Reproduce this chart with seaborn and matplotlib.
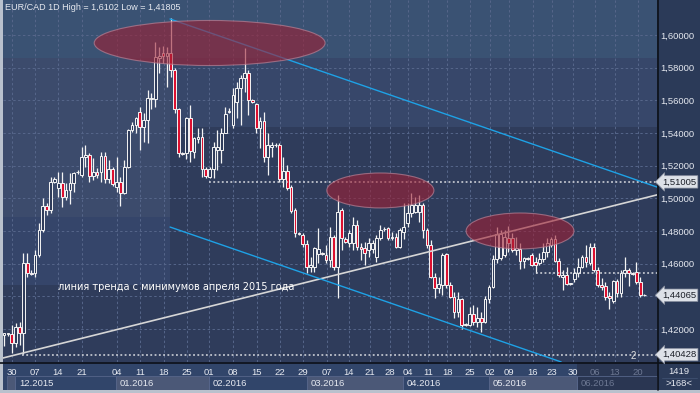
import matplotlib
matplotlib.use("Agg")
import matplotlib.pyplot as plt
import matplotlib.transforms as mtransforms
from matplotlib.patches import Ellipse, Rectangle
from matplotlib.lines import Line2D
import numpy as np
import seaborn as sns

# --- daily EUR/CAD candles (incl. short Sunday bars) ---
opens = [
    1.4163, 1.4169, 1.4169, 1.4116, 1.4210, 1.4173, 1.4606, 1.4545, 1.4540, 1.4653,
    1.4806, 1.4953, 1.4928, 1.5102, 1.5061, 1.5092, 1.5006, 1.5051, 1.5092, 1.5159,
    1.5141, 1.5251, 1.5263, 1.5137, 1.5163, 1.5163, 1.5259, 1.5116, 1.5177, 1.5071,
    1.5098, 1.5034, 1.5194, 1.5418, 1.5449, 1.5530, 1.5434, 1.5479, 1.5606, 1.5606,
    1.5861, 1.5892, 1.5871, 1.5888, 1.5786, 1.5545, 1.5275, 1.5275, 1.5490, 1.5285,
    1.5361, 1.5377, 1.5177, 1.5132, 1.5177, 1.5296, 1.5296, 1.5402, 1.5528, 1.5449,
    1.5592, 1.5673, 1.5735, 1.5769, 1.5602, 1.5575, 1.5428, 1.5473, 1.5255, 1.5316,
    1.5326, 1.5326, 1.5116, 1.5167, 1.5071, 1.4928, 1.4785, 1.4775, 1.4720, 1.4577,
    1.4581, 1.4659, 1.4663, 1.4653, 1.4622, 1.4765, 1.4581, 1.4928, 1.4753, 1.4724,
    1.4724, 1.4836, 1.4704, 1.4694, 1.4683, 1.4687, 1.4638, 1.4759, 1.4810, 1.4816,
    1.4755, 1.4765, 1.4700, 1.4796, 1.4847, 1.4908, 1.4918, 1.4918, 1.4959, 1.4806,
    1.4714, 1.4520, 1.4449, 1.4469, 1.4659, 1.4469, 1.4394, 1.4306, 1.4381, 1.4224,
    1.4224, 1.4291, 1.4244, 1.4265, 1.4244, 1.4381, 1.4459, 1.4626, 1.4632, 1.4653,
    1.4755, 1.4755, 1.4683, 1.4687, 1.4618, 1.4632, 1.4653, 1.4612, 1.4606, 1.4626,
    1.4673, 1.4714, 1.4749, 1.4618, 1.4520, 1.4530, 1.4475, 1.4504, 1.4540, 1.4581,
    1.4638, 1.4602, 1.4700, 1.4561, 1.4469, 1.4463, 1.4402, 1.4373, 1.4496, 1.4422,
    1.4540, 1.4561, 1.4540, 1.4551, 1.4489, 1.4407,
]
highs = [
    1.4177, 1.4177, 1.4224, 1.4234, 1.4244, 1.4663, 1.4663, 1.4561, 1.4683, 1.4847,
    1.5000, 1.4973, 1.5132, 1.5132, 1.5163, 1.5163, 1.5092, 1.5157, 1.5163, 1.5173,
    1.5316, 1.5326, 1.5275, 1.5245, 1.5183, 1.5285, 1.5285, 1.5234, 1.5194, 1.5255,
    1.5132, 1.5234, 1.5422, 1.5469, 1.5500, 1.5561, 1.5520, 1.5663, 1.5643, 1.5959,
    1.5928, 1.5933, 1.5928, 1.6102, 1.5796, 1.5551, 1.5285, 1.5500, 1.5571, 1.5377,
    1.5428, 1.5428, 1.5194, 1.5190, 1.5347, 1.5418, 1.5428, 1.5561, 1.5551, 1.5673,
    1.5714, 1.5755, 1.5918, 1.5786, 1.5610, 1.5582, 1.5500, 1.5530, 1.5398, 1.5347,
    1.5336, 1.5336, 1.5255, 1.5204, 1.5081, 1.4939, 1.4796, 1.4785, 1.4745, 1.4642,
    1.4704, 1.4816, 1.4671, 1.4714, 1.4826, 1.4775, 1.5020, 1.4939, 1.4761, 1.4806,
    1.4888, 1.4867, 1.4724, 1.4734, 1.4755, 1.4745, 1.4775, 1.4836, 1.4822, 1.4826,
    1.4796, 1.4785, 1.4816, 1.4969, 1.4969, 1.5030, 1.5010, 1.5020, 1.4969, 1.4816,
    1.4745, 1.4540, 1.4520, 1.4667, 1.4667, 1.4489, 1.4428, 1.4428, 1.4387, 1.4234,
    1.4336, 1.4346, 1.4336, 1.4306, 1.4402, 1.4469, 1.4653, 1.4826, 1.4806, 1.4806,
    1.4830, 1.4785, 1.4765, 1.4724, 1.4642, 1.4638, 1.4663, 1.4642, 1.4667, 1.4724,
    1.4755, 1.4765, 1.4775, 1.4632, 1.4561, 1.4581, 1.4483, 1.4571, 1.4632, 1.4653,
    1.4714, 1.4724, 1.4728, 1.4581, 1.4510, 1.4489, 1.4428, 1.4500, 1.4504, 1.4561,
    1.4638, 1.4571, 1.4549, 1.4612, 1.4520, 1.4412,
]
lows = [
    1.4095, 1.4157, 1.4055, 1.4091, 1.4102, 1.4046, 1.4520, 1.4530, 1.4520, 1.4642,
    1.4796, 1.4898, 1.4908, 1.5092, 1.5010, 1.4945, 1.4990, 1.4965, 1.5041, 1.5149,
    1.5132, 1.5194, 1.5102, 1.5112, 1.5122, 1.5102, 1.5092, 1.5092, 1.5075, 1.5041,
    1.4953, 1.5026, 1.5183, 1.5408, 1.5398, 1.5296, 1.5347, 1.5336, 1.5545, 1.5561,
    1.5765, 1.5826, 1.5684, 1.5745, 1.5520, 1.5255, 1.5265, 1.5239, 1.5224, 1.5245,
    1.5336, 1.5132, 1.5122, 1.5122, 1.5122, 1.5173, 1.5214, 1.5398, 1.5520, 1.5428,
    1.5490, 1.5449, 1.5653, 1.5510, 1.5582, 1.5398, 1.5306, 1.5224, 1.5143, 1.5255,
    1.5316, 1.5102, 1.5071, 1.5051, 1.4908, 1.4765, 1.4775, 1.4700, 1.4540, 1.4551,
    1.4551, 1.4602, 1.4653, 1.4602, 1.4581, 1.4561, 1.4387, 1.4683, 1.4728, 1.4704,
    1.4683, 1.4683, 1.4622, 1.4591, 1.4642, 1.4663, 1.4612, 1.4745, 1.4802, 1.4745,
    1.4745, 1.4694, 1.4694, 1.4749, 1.4826, 1.4883, 1.4908, 1.4857, 1.4755, 1.4694,
    1.4510, 1.4387, 1.4418, 1.4408, 1.4449, 1.4387, 1.4265, 1.4275, 1.4198, 1.4218,
    1.4218, 1.4224, 1.4214, 1.4183, 1.4234, 1.4357, 1.4449, 1.4602, 1.4622, 1.4642,
    1.4673, 1.4673, 1.4653, 1.4565, 1.4571, 1.4622, 1.4585, 1.4540, 1.4591, 1.4612,
    1.4642, 1.4700, 1.4612, 1.4516, 1.4438, 1.4469, 1.4467, 1.4489, 1.4520, 1.4571,
    1.4581, 1.4591, 1.4551, 1.4459, 1.4438, 1.4377, 1.4320, 1.4361, 1.4394, 1.4398,
    1.4520, 1.4463, 1.4532, 1.4475, 1.4398, 1.4402,
]
closes = [
    1.4173, 1.4171, 1.4112, 1.4210, 1.4173, 1.4606, 1.4540, 1.4536, 1.4653, 1.4806,
    1.4953, 1.4928, 1.5102, 1.5116, 1.5092, 1.5006, 1.5051, 1.5092, 1.5157, 1.5163,
    1.5251, 1.5263, 1.5137, 1.5163, 1.5143, 1.5259, 1.5116, 1.5177, 1.5088, 1.5102,
    1.5034, 1.5194, 1.5418, 1.5449, 1.5490, 1.5434, 1.5479, 1.5612, 1.5614, 1.5867,
    1.5871, 1.5871, 1.5888, 1.5786, 1.5545, 1.5275, 1.5271, 1.5490, 1.5292, 1.5367,
    1.5377, 1.5177, 1.5137, 1.5177, 1.5316, 1.5316, 1.5402, 1.5516, 1.5532, 1.5632,
    1.5673, 1.5735, 1.5769, 1.5602, 1.5590, 1.5428, 1.5473, 1.5255, 1.5326, 1.5326,
    1.5324, 1.5116, 1.5167, 1.5061, 1.4924, 1.4785, 1.4781, 1.4720, 1.4581, 1.4591,
    1.4694, 1.4687, 1.4661, 1.4622, 1.4765, 1.4581, 1.4918, 1.4755, 1.4734, 1.4789,
    1.4836, 1.4700, 1.4687, 1.4663, 1.4724, 1.4728, 1.4759, 1.4806, 1.4812, 1.4759,
    1.4761, 1.4704, 1.4806, 1.4826, 1.4908, 1.4959, 1.4959, 1.4959, 1.4806, 1.4714,
    1.4520, 1.4449, 1.4475, 1.4653, 1.4469, 1.4394, 1.4306, 1.4381, 1.4224, 1.4226,
    1.4291, 1.4244, 1.4265, 1.4244, 1.4381, 1.4459, 1.4626, 1.4781, 1.4781, 1.4765,
    1.4724, 1.4683, 1.4694, 1.4618, 1.4632, 1.4630, 1.4591, 1.4591, 1.4626, 1.4673,
    1.4724, 1.4749, 1.4618, 1.4530, 1.4530, 1.4475, 1.4477, 1.4540, 1.4581, 1.4638,
    1.4612, 1.4704, 1.4561, 1.4469, 1.4459, 1.4398, 1.4387, 1.4496, 1.4422, 1.4545,
    1.4561, 1.4540, 1.4538, 1.4489, 1.4408, 1.44065,
]

# date axis (candle index of each Monday label)
day_labels = ['30', '07', '14', '21', '04', '11', '18', '25', '01', '08', '15', '22',
              '29', '07', '14', '21', '28', '04', '11', '18', '25', '02', '09', '16',
              '23', '30', '06', '13', '20']
day_pos = [2.1, 8.0, 13.9, 20.1, 29.1, 35.0, 41.2, 47.2, 52.8, 59.0, 65.2, 71.1,
           77.1, 83.2, 88.9, 94.3, 99.5, 104.1, 109.3, 114.2, 120.1, 125.3, 130.2, 136.3,
           141.2, 146.6, 152.3, 157.4, 163.4]
month_labels = ['', '12.2015', '01.2016', '02.2016', '03.2016', '04.2016', '05.2016', '06.2016']
month_start = [0.8, 2.9, 28.9, 52.8, 78.1, 102.8, 125.0, 147.7]

# analyst drawings
trend_x, trend_y = [-0.3, 168.3], [1.4022, 1.5021]
upper_x, upper_y = [42.8, 168.3], [1.6098, 1.5069]
lower_x, lower_y = [42.8, 143.6], [1.4824, 1.3998]
zones = [(53.0, 1.5951, 59.5, 0.0276), (97.0, 1.5048, 27.6, 0.0214), (133.0, 1.4800, 27.8, 0.0220)]
level_lines = [(52.8, 1.51005), (137.1, 1.4543), (4.6, 1.40428)]
price_tags = [1.51005, 1.44065, 1.40428]

XMIN, XMAX = -0.26, 168.3
YMIN, YMAX = 1.39976, 1.62143

PLOT_BG = '#2f3c5b'
PANEL_BG = '#2b3a58'
DATE_BG = '#31456a'
TXT = '#e6e9f0'

sns.set_style("dark", {"axes.facecolor": PLOT_BG, "figure.facecolor": PANEL_BG})
plt.rcParams['font.family'] = ['Liberation Sans', 'DejaVu Sans']

W, H = 700, 393
fig = plt.figure(figsize=(7, 3.93), dpi=100)
fig.patch.set_facecolor(PANEL_BG)
ax = fig.add_axes([3 / W, 31 / H, 654 / W, 362 / H])
ax.set_facecolor(PLOT_BG)
ax.set_xlim(XMIN, XMAX)
ax.set_ylim(YMIN, YMAX)


def py2price(py):
    return YMAX - py / 362 * (YMAX - YMIN)


# shaded background blocks
for x0, x1, t, b, c in [(XMIN, XMAX, 0, 58, '#3a5273'), (XMIN, XMAX, 58, 127, '#37476a'),
                        (XMIN, 42.8, 58, 217, '#3c4b6c'), (XMIN, 42.8, 217, 285, '#35456a')]:
    ax.add_patch(Rectangle((x0, py2price(b)), x1 - x0, py2price(t) - py2price(b),
                           fc=c, ec='none', zorder=0))

# grid
grid_kw = dict(color='#56668a', lw=0.7, ls=(0, (2.5, 2.5)), zorder=1)
for p in np.arange(1.42, 1.6001, 0.02):
    ax.axhline(p, **grid_kw)
for x in day_pos:
    ax.axvline(x, **grid_kw)

# candles
idx = np.arange(len(opens))
o, h, l, c = map(np.asarray, (opens, highs, lows, closes))
ax.vlines(idx, l, h, color='#f4f4f4', lw=0.9, zorder=3)
bull = c >= o
body = np.maximum(np.abs(c - o), 0.00035)
ax.bar(idx, body, bottom=np.minimum(o, c), width=0.7,
       color=np.where(bull, PLOT_BG, '#dc1030'), edgecolor='#f4f4f4', lw=0.7, zorder=4)

# level lines
for x0, p in level_lines:
    ax.plot([x0, XMAX], [p, p], color='#d8dae0', lw=1.1, ls=(0, (1.2, 1.6)), zorder=5)

# trend channel lines
sns.lineplot(x=trend_x, y=trend_y, ax=ax, color='#d6d6d6', lw=1.2, zorder=6)
sns.lineplot(x=upper_x, y=upper_y, ax=ax, color='#1ea2e6', lw=1.0, zorder=6)
sns.lineplot(x=lower_x, y=lower_y, ax=ax, color='#1ea2e6', lw=1.0, zorder=6)

# resistance zones
for cx, cy, w, hh in zones:
    ax.add_patch(Ellipse((cx, cy), w, hh, fc=(0.62, 0.12, 0.2, 0.6),
                         ec=(0.72, 0.5, 0.58, 0.7), lw=0.8, zorder=7))

ax.text(13.9, py2price(287), 'линия тренда с минимумов апреля 2015 года',
        color='white', fontsize=7, va='center', family=['DejaVu Sans'], zorder=8)
ax.text(162.3, py2price(356), '2', color='#e0e0e0', fontsize=7, ha='center', va='center', zorder=8)

# axes styling
for s in ax.spines.values():
    s.set_visible(False)
ax.yaxis.tick_right()
yt = np.arange(1.42, 1.6001, 0.02)
# the 1,44 label sits under the last-price tag, so it is left blank
ax.set_yticks(yt, ['' if abs(v - 1.44) < 1e-6 else f"{v:.5f}".replace('.', ',') for v in yt])
ax.tick_params(axis='y', length=0, pad=2.5, labelsize=6.8, labelcolor=TXT)
ax.set_xticks(day_pos, day_labels)
ax.tick_params(axis='x', length=0, pad=4, labelsize=6.8, labelcolor=TXT)
for lab in ax.get_xticklabels()[-3:]:
    lab.set_color('#6d7893')
ax.grid(False)

# bottom date panel and month boxes
fig.add_artist(Rectangle((0, 3 / H), 657 / W, 28 / H, transform=fig.transFigure,
                         fc=DATE_BG, ec='none', zorder=-1))
fig.add_artist(Rectangle((577 / W, 3 / H), 80 / W, 28 / H, transform=fig.transFigure,
                         fc='#2a3652', ec='none', zorder=-1))
xf = mtransforms.blended_transform_factory(ax.transData, fig.transFigure)
ends = month_start[1:] + [XMAX]
for i, (lab, x0, x1) in enumerate(zip(month_labels, month_start, ends)):
    last = i == len(month_labels) - 1
    fc = '#4b5877' if i % 2 == 0 and not last else 'none'
    fig.add_artist(Rectangle((x0, 3 / H), x1 - x0, 14 / H, transform=xf,
                             fc=fc, ec='#56658a', lw=0.6, zorder=0))
    fig.text(x0 + 1.0, 10 / H, lab, transform=xf, fontsize=6.8, va='center',
             color='#6d7893' if last else TXT)

# price tags on the right scale
yf = mtransforms.blended_transform_factory(fig.transFigure, ax.transData)
for p in price_tags:
    fig.text(662 / W, p, f"{p:.5f}".replace('.', ','), transform=yf, fontsize=6.8,
             va='center', color='#1b1f28', zorder=10,
             bbox=dict(boxstyle='larrow,pad=0.18', fc='#dde1e8', ec='#8a90a0', lw=0.5))

# header, counter cell, frame lines
fig.text(5 / W, 1 - 8 / H, 'EUR/CAD 1D High = 1,6102 Low = 1,41805', fontsize=6.5, color=TXT, va='center')
fig.text(679 / W, 1 - 371 / H, '1419', fontsize=6.8, color=TXT, ha='center', va='center')
fig.text(679 / W, 1 - 384 / H, '>168<', fontsize=6.8, color=TXT, ha='center', va='center')
fig.add_artist(Line2D([662 / W, 697 / W], [1 - 377.5 / H] * 2, color='#3f5070', lw=0.6))
fig.add_artist(Line2D([657.5 / W] * 2, [3 / H, 1], color='#0c1018', lw=1.2))
fig.add_artist(Line2D([0, 1], [1 - 362.5 / H] * 2, color='#0c1018', lw=1.2))
fig.add_artist(Rectangle((0, 0), 3 / W, 1, transform=fig.transFigure, fc='#b9c1cd', ec='none'))
fig.add_artist(Rectangle((0, 0), 1, 3 / H, transform=fig.transFigure, fc='#b9c1cd', ec='none'))

fig.savefig('out.png', dpi=100, facecolor=fig.get_facecolor())
